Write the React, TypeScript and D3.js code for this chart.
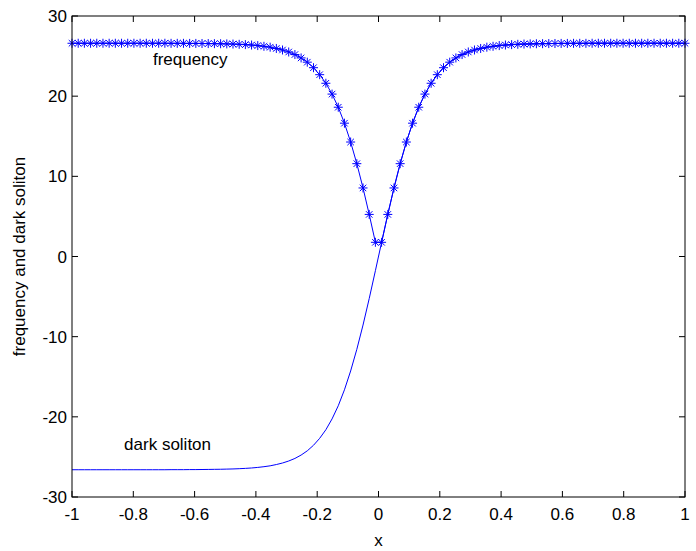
import React from "react";
import * as d3 from "d3";

const N = 100;
const xGrid = d3.range(N).map((i) => -1 + (2 * i) / (N - 1));

const frequency = [
  26.6, 26.6, 26.6, 26.6, 26.6, 26.6, 26.6, 26.6, 26.6, 26.6,
  26.6, 26.6, 26.6, 26.6, 26.6, 26.6, 26.59, 26.59, 26.59, 26.58,
  26.58, 26.57, 26.56, 26.55, 26.54, 26.52, 26.5, 26.47, 26.43, 26.38,
  26.31, 26.22, 26.11, 25.95, 25.76, 25.51, 25.19, 24.77, 24.24, 23.55,
  22.68, 21.61, 20.26, 18.62, 16.63, 14.28, 11.58, 8.55, 5.25, 1.77,
  1.77, 5.25, 8.55, 11.58, 14.28, 16.63, 18.62, 20.26, 21.61, 22.68,
  23.55, 24.24, 24.77, 25.19, 25.51, 25.76, 25.95, 26.11, 26.22, 26.31,
  26.38, 26.43, 26.47, 26.5, 26.52, 26.54, 26.55, 26.56, 26.57, 26.58,
  26.58, 26.59, 26.59, 26.59, 26.6, 26.6, 26.6, 26.6, 26.6, 26.6,
  26.6, 26.6, 26.6, 26.6, 26.6, 26.6, 26.6, 26.6, 26.6, 26.6,
];

const darkSoliton = [
  -26.6, -26.6, -26.6, -26.6, -26.6, -26.6, -26.6, -26.6, -26.6, -26.6,
  -26.6, -26.6, -26.6, -26.6, -26.6, -26.6, -26.59, -26.59, -26.59, -26.58,
  -26.58, -26.57, -26.56, -26.55, -26.54, -26.52, -26.5, -26.47, -26.43, -26.38,
  -26.31, -26.22, -26.11, -25.95, -25.76, -25.51, -25.19, -24.77, -24.24, -23.55,
  -22.68, -21.61, -20.26, -18.62, -16.63, -14.28, -11.58, -8.55, -5.25, -1.77,
  1.77, 5.25, 8.55, 11.58, 14.28, 16.63, 18.62, 20.26, 21.61, 22.68,
  23.55, 24.24, 24.77, 25.19, 25.51, 25.76, 25.95, 26.11, 26.22, 26.31,
  26.38, 26.43, 26.47, 26.5, 26.52, 26.54, 26.55, 26.56, 26.57, 26.58,
  26.58, 26.59, 26.59, 26.59, 26.6, 26.6, 26.6, 26.6, 26.6, 26.6,
  26.6, 26.6, 26.6, 26.6, 26.6, 26.6, 26.6, 26.6, 26.6, 26.6,
];

const xTicks = [-1, -0.8, -0.6, -0.4, -0.2, 0, 0.2, 0.4, 0.6, 0.8, 1];
const yTicks = [-30, -20, -10, 0, 10, 20, 30];

const annotations = [
  { text: "frequency", x: -0.736, y: 24.6 },
  { text: "dark soliton", x: -0.83, y: -23.4 },
];

const W = 696;
const H = 551;
const L = 72;
const R = 685;
const T = 16;
const B = 497;
const FONT = "Arial, 'Liberation Sans', Helvetica, sans-serif";
const BLUE = "#0000ff";

export default function App() {
  const xs = d3.scaleLinear().domain([-1, 1]).range([L, R]);
  const ys = d3.scaleLinear().domain([-30, 30]).range([B, T]);
  const pts = xGrid.map((x, i) => [x, frequency[i]] as [number, number]);
  const pts2 = xGrid.map((x, i) => [x, darkSoliton[i]] as [number, number]);
  const line = d3
    .line<[number, number]>()
    .x((d) => xs(d[0]))
    .y((d) => ys(d[1]));
  const tl = 6;
  const r = 4.5;
  const rd = r * 0.72;
  const fs = 17;

  return (
    <svg
      width={W}
      height={H}
      style={{ position: "absolute", left: 0, top: 0, background: "#fff" }}
      fontFamily={FONT}
    >
      <rect x={0} y={0} width={W} height={H} fill="#fff" />
      <path d={line(pts2) || ""} fill="none" stroke={BLUE} strokeWidth={1} />
      <path d={line(pts) || ""} fill="none" stroke={BLUE} strokeWidth={1} />
      {pts.map((p, i) => {
        const cx = xs(p[0]);
        const cy = ys(p[1]);
        return (
          <g key={i} stroke={BLUE} strokeWidth={1}>
            <line x1={cx - r} y1={cy} x2={cx + r} y2={cy} />
            <line x1={cx} y1={cy - r} x2={cx} y2={cy + r} />
            <line x1={cx - rd} y1={cy - rd} x2={cx + rd} y2={cy + rd} />
            <line x1={cx - rd} y1={cy + rd} x2={cx + rd} y2={cy - rd} />
          </g>
        );
      })}
      <rect x={L} y={T} width={R - L} height={B - T} fill="none" stroke="#000" strokeWidth={1} />
      {xTicks.map((t) => (
        <g key={"x" + t}>
          <line x1={xs(t)} y1={B} x2={xs(t)} y2={B - tl} stroke="#000" />
          <line x1={xs(t)} y1={T} x2={xs(t)} y2={T + tl} stroke="#000" />
          <text x={xs(t)} y={B + 23} textAnchor="middle" fontSize={fs} fill="#000">
            {String(t)}
          </text>
        </g>
      ))}
      {yTicks.map((t) => (
        <g key={"y" + t}>
          <line x1={L} y1={ys(t)} x2={L + tl} y2={ys(t)} stroke="#000" />
          <line x1={R} y1={ys(t)} x2={R - tl} y2={ys(t)} stroke="#000" />
          <text x={L - 5} y={ys(t) + 6} textAnchor="end" fontSize={fs} fill="#000">
            {String(t)}
          </text>
        </g>
      ))}
      <text x={(L + R) / 2} y={546} textAnchor="middle" fontSize={fs} fill="#000">
        x
      </text>
      <text
        transform={`translate(25, ${(T + B) / 2}) rotate(-90)`}
        textAnchor="middle"
        fontSize={fs}
        fill="#000"
      >
        frequency and dark soliton
      </text>
      {annotations.map((a) => (
        <text key={a.text} x={xs(a.x)} y={ys(a.y) + 6} fontSize={fs} fill="#000">
          {a.text}
        </text>
      ))}
    </svg>
  );
}
